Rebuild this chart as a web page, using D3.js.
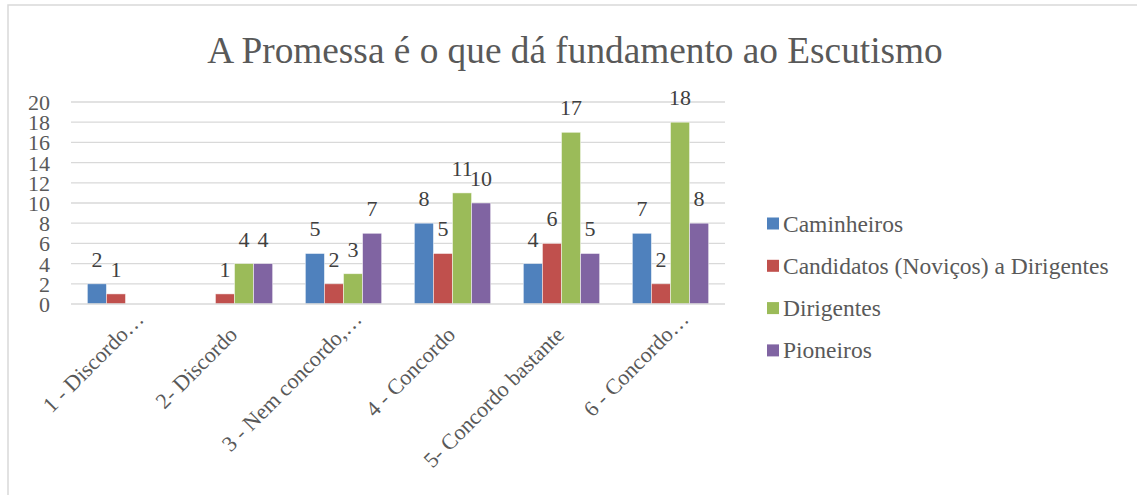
<!DOCTYPE html>
<html>
<head>
<meta charset="utf-8">
<script src="https://cdn.jsdelivr.net/npm/d3@7"></script>
<style>
  html, body { margin: 0; padding: 0; background: #fff; }
  svg { display: block; }
</style>
</head>
<body>
<svg id="chart" width="1137" height="495" font-family="Liberation Serif"></svg>
<script>
const title = "A Promessa é o que dá fundamento ao Escutismo";
const categories = ["1 - Discordo…", "2- Discordo", "3 - Nem concordo,…", "4 - Concordo", "5- Concordo bastante", "6 - Concordo…"];
const seriesNames = ["Caminheiros", "Candidatos (Noviços) a Dirigentes", "Dirigentes", "Pioneiros"];
const caminheiros = [2, null, 5, 8, 4, 7];
const candidatos  = [1, 1, 2, 5, 6, 2];
const dirigentes  = [null, 4, 3, 11, 17, 18];
const pioneiros   = [null, 4, 7, 10, 5, 8];
const yTicks = [0, 2, 4, 6, 8, 10, 12, 14, 16, 18, 20];
const colors = ["#4F81BD", "#C0504D", "#9BBB59", "#8064A2"];

const seriesValues = [caminheiros, candidatos, dirigentes, pioneiros];
const FONT = "Liberation Serif";
const TEXT = "#595959";

const svg = d3.select("#chart");

// place a text element by its own transform (rotated for category labels), in the serif face
function label(sel, tx, ty, size, angle) {
  return sel
    .attr("x", 0).attr("y", 0)
    .attr("transform", `translate(${tx},${ty}) rotate(${angle === undefined ? 0.01 : angle})`)
    .style("font-family", FONT)
    .style("font-size", size + "px");
}

// outer chart frame
svg.append("rect")
  .attr("x", 8).attr("y", 5)
  .attr("width", 1140).attr("height", 500)
  .attr("fill", "#fff").attr("stroke", "#d9d9d9").attr("stroke-width", 1.5);

const plot = { left: 71, right: 725, top: 102, bottom: 304 };

const x = d3.scaleBand().domain(categories).range([plot.left, plot.right]).paddingInner(0.3).paddingOuter(0.15);
const xs = d3.scaleBand().domain(seriesNames).range([0, x.bandwidth()]);
const y = d3.scaleLinear().domain([0, 20]).range([plot.bottom, plot.top]);

// title
label(svg.append("text"), 575, 63, 37.3)
  .attr("text-anchor", "middle")
  .attr("fill", TEXT)
  .text(title);

// gridlines
svg.append("g").selectAll("line").data(yTicks.filter(t => t > 0)).join("line")
  .attr("x1", plot.left).attr("x2", plot.right)
  .attr("y1", d => y(d)).attr("y2", d => y(d))
  .attr("stroke", "#d9d9d9").attr("stroke-width", 1.3);

// y axis labels
const yAxis = d3.axisLeft(y).tickValues(yTicks).tickSize(0).tickPadding(0);
const gy = svg.append("g").attr("transform", `translate(${plot.left - 21},0)`).call(yAxis);
gy.attr("font-family", FONT).attr("font-size", 22);
gy.select(".domain").remove();
gy.selectAll("text").each(function() {
  label(d3.select(this), 0, 7.5, 22).attr("dy", null).attr("fill", TEXT);
});

// bars and value labels
const barLayer = svg.append("g");
const labelLayer = svg.append("g");
seriesNames.forEach((name, si) => {
  const vals = seriesValues[si];
  const data = categories.map((c, ci) => ({ c, v: vals[ci] })).filter(d => d.v !== null);
  barLayer.append("g").attr("fill", colors[si]).selectAll("rect").data(data).join("rect")
    .attr("x", d => x(d.c) + xs(name))
    .attr("y", d => y(d.v))
    .attr("width", xs.bandwidth())
    .attr("height", d => y(0) - y(d.v))
    .attr("stroke", "rgba(255,255,255,0.6)").attr("stroke-width", 0.8);
  labelLayer.append("g").selectAll("text").data(data).join("text")
    .each(function(d) {
      label(d3.select(this), x(d.c) + xs(name) + xs.bandwidth() / 2, y(d.v) - 17, 22);
    })
    .attr("text-anchor", "middle")
    .attr("fill", "#404040")
    .text(d => d.v);
});

// x axis line
svg.append("line")
  .attr("x1", plot.left).attr("x2", plot.right)
  .attr("y1", y(0)).attr("y2", y(0))
  .attr("stroke", "#d9d9d9").attr("stroke-width", 1.5);

// category labels, rotated; a trailing ellipsis hangs past the anchor point
svg.append("g").selectAll("text").data(categories).join("text")
  .each(function(d) {
    label(d3.select(this), x(d) + x.bandwidth() / 2 + 4, 336, 22, -45);
  })
  .attr("text-anchor", "end")
  .attr("fill", TEXT)
  .text(d => d)
  .each(function(d) {
    if (d.endsWith("…")) {
      const w = this.getSubStringLength(d.length - 1, 1);
      d3.select(this).attr("dx", w);
    }
  });

// legend
const legend = svg.append("g").selectAll("g").data(seriesNames).join("g");
legend.append("rect")
  .attr("x", 767).attr("y", (d, i) => 217.5 + i * 42.3).attr("width", 12).attr("height", 12)
  .attr("fill", (d, i) => colors[i]);
legend.append("text")
  .each(function(d, i) { label(d3.select(this), 783, 231.5 + i * 42.3, 23.5); })
  .attr("fill", TEXT)
  .text(d => d);
</script>
</body>
</html>
